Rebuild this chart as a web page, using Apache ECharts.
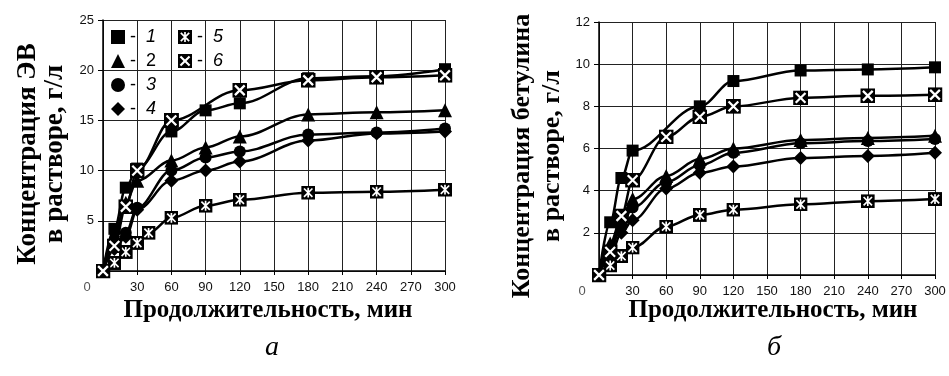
<!DOCTYPE html>
<html><head><meta charset="utf-8">
<script src="https://cdn.jsdelivr.net/npm/echarts@6/dist/echarts.min.js"></script>
<style>html,body{margin:0;padding:0;background:#fff}#c{width:949px;height:376px}</style>
</head><body><div id="c"></div>
<script>
// ---- data: chart (а) ----
const namesA = ['1','2','3','4','5','6'];
const tA1 = [0,10,20,30,60,90,120,180,240,300];
const a1  = [0,4.2,8.3,10.2,13.9,16.0,16.7,19.2,19.4,20.1];
const tA2 = [0,10,20,30,60,90,120,180,240,300];
const a2  = [0,3.6,6.8,9.0,11.0,12.3,13.4,15.6,15.8,16.0];
const tA3 = [0,10,20,30,60,90,120,180,240,300];
const a3  = [0,2.6,3.8,6.3,10.0,11.3,11.9,13.6,13.8,14.2];
const tA4 = [0,10,20,30,60,90,120,180,240,300];
const a4  = [0,2.2,3.4,6.1,9.0,10.0,10.9,13.0,13.7,13.9];
const tA5 = [0,10,20,30,40,60,90,120,180,240,300];
const a5  = [0,0.8,1.9,2.8,3.8,5.3,6.5,7.1,7.8,7.9,8.1];
const tA6 = [0,10,20,30,60,120,180,240,300];
const a6  = [0,2.5,6.4,10.0,15.0,18.0,19.0,19.3,19.5];
// ---- data: chart (б) ----
const tB1 = [0,10,20,30,90,120,180,240,300];
const b1  = [0,2.5,4.6,5.9,8.0,9.2,9.7,9.75,9.85];
const tB  = [0,10,20,30,60,90,120,180,240,300];
const b2  = [0,1.5,2.7,3.6,4.7,5.5,6.0,6.4,6.5,6.6];
const b3  = [0,1.2,2.3,3.2,4.4,5.2,5.8,6.25,6.35,6.45];
const b4  = [0,0.9,2.0,2.6,4.1,4.85,5.15,5.55,5.65,5.8];
const b5  = [0,0.45,0.9,1.3,2.3,2.85,3.1,3.35,3.5,3.6];
const b6  = [0,1.1,2.8,4.5,6.55,7.5,8.0,8.4,8.5,8.55];
// ticks
const xTicks = {min:0, max:300, interval:30};
const yTicksA = {min:0, max:25, interval:5};
const yTicksB = {min:0, max:12, interval:2};

const svg = s => 'image://data:image/svg+xml;charset=utf-8,' + encodeURIComponent(s);
const sym6 = svg('<svg xmlns="http://www.w3.org/2000/svg" width="20" height="20" viewBox="0 0 20 20"><rect x="0" y="0" width="20" height="20" fill="#000"/><path d="M3.5 3.5L16.5 16.5M16.5 3.5L3.5 16.5" stroke="#fff" stroke-width="3"/></svg>');
const sym5 = svg('<svg xmlns="http://www.w3.org/2000/svg" width="20" height="20" viewBox="0 0 20 20"><rect x="0" y="0" width="20" height="20" fill="#000"/><path d="M4 4L16 16M16 4L4 16M10 3L10 17" stroke="#fff" stroke-width="2.4"/></svg>');

const symbols = ['rect','triangle','circle','diamond',sym5,sym6];
const sizes = [12,14,12,14,14,15];

function pairs(t, v){ return t.map((x,i)=>[x, v[i]]); }
const setsA = [pairs(tA1,a1),pairs(tA2,a2),pairs(tA3,a3),pairs(tA4,a4),pairs(tA5,a5),pairs(tA6,a6)];
const setsB = [pairs(tB1,b1),pairs(tB,b2),pairs(tB,b3),pairs(tB,b4),pairs(tB,b5),pairs(tB,b6)];

const series = [];
[setsA, setsB].forEach((sets, g) => {
  sets.forEach((d, i) => {
    series.push({
      name: namesA[i], type:'line', xAxisIndex:g, yAxisIndex:g, data:d,
      smooth:0.35, smoothMonotone:'x',
      symbol: symbols[i], symbolSize: sizes[i], showSymbol:true,
      lineStyle:{color:'#000', width:2.5}, itemStyle:{color:'#000'},
      z: 2 + i
    });
  });
});

const labelFont = {fontFamily:'Liberation Sans, Arial', fontSize:13, color:'#111'};
function xAxis(g, pad){
  return {gridIndex:g, type:'value', ...xTicks,
    axisLine:{show:true, lineStyle:{color:'#000', width:1.5}},
    axisTick:{show:true, length:4, lineStyle:{color:'#000'}},
    splitLine:{show:true, lineStyle:{color:'#222', width:1}},
    axisLabel:{...labelFont, margin:10, formatter:v => v===0 ? '{z|0}' : String(v),
      rich:{z:{fontFamily:'Liberation Sans, Arial', fontSize:13, color:'#555', padding:[0,pad,0,0]}}}
  };
}
function yAxis(g, t){
  return {gridIndex:g, type:'value', ...t,
    axisLine:{show:true, lineStyle:{color:'#000', width:1.5}},
    axisTick:{show:true, length:5, lineStyle:{color:'#000'}},
    splitLine:{show:true, lineStyle:{color:'#222', width:1}},
    axisLabel:{...labelFont, margin:9, formatter:v => v===0 ? '' : String(v)}
  };
}

const legendText = {fontFamily:'Liberation Sans, Arial', fontSize:18, color:'#000', lineHeight:17,
  rich:{i:{fontStyle:'italic', fontFamily:'Liberation Sans, Arial', fontSize:18, color:'#000'},
        n:{fontFamily:'Liberation Sans, Arial', fontSize:18, color:'#000'}}};
const legendFmt = n => '-  ' + (n==='2' ? '{n|2}' : '{i|'+n+'}');

const serif = '"Liberation Serif", "Times New Roman", serif';
const option = {
  animation:false,
  backgroundColor:'#fff',
  grid:[
    {left:103, top:20, width:342, height:251},
    {left:599, top:22, width:336, height:253}
  ],
  xAxis:[xAxis(0,32), xAxis(1,34)],
  yAxis:[yAxis(0,yTicksA), yAxis(1,yTicksB)],
  legend:[
    {data:[{name:'1',icon:'rect'},{name:'2',icon:'triangle'},{name:'3',icon:'circle'},{name:'4',icon:'diamond'}],
     orient:'vertical', left:106, top:23, itemWidth:14, itemHeight:14, itemGap:6, selectedMode:false,
     formatter:legendFmt, textStyle:legendText, itemStyle:{color:'#000'}},
    {data:[{name:'5',icon:sym5},{name:'6',icon:sym6}],
     orient:'vertical', left:173, top:23, itemWidth:14, itemHeight:14, itemGap:6, selectedMode:false,
     formatter:legendFmt, textStyle:legendText}
  ],
  series: series,
  graphic:[
    {type:'text', x:42, y:154, rotation:Math.PI/2,
     style:{text:'Концентрация ЭВ\nв растворе, г/л', font:'bold 27px '+serif, fill:'#000',
            align:'center', verticalAlign:'middle', textAlign:'center', textVerticalAlign:'middle', lineHeight:27}},
    {type:'text', x:537, y:156, rotation:Math.PI/2,
     style:{text:'Концентрация бетулина\nв растворе, г/л', font:'bold 26px '+serif, fill:'#000',
            align:'center', verticalAlign:'middle', textAlign:'center', textVerticalAlign:'middle', lineHeight:30}},
    {type:'text', x:268, y:311,
     style:{text:'Продолжительность, мин', font:'bold 25px '+serif, fill:'#000',
            align:'center', verticalAlign:'middle', textAlign:'center', textVerticalAlign:'middle'}},
    {type:'text', x:773, y:311,
     style:{text:'Продолжительность, мин', font:'bold 25px '+serif, fill:'#000',
            align:'center', verticalAlign:'middle', textAlign:'center', textVerticalAlign:'middle'}},
    {type:'text', x:272, y:348,
     style:{text:'а', font:'italic 28px '+serif, fill:'#000',
            align:'center', verticalAlign:'middle', textAlign:'center', textVerticalAlign:'middle'}},
    {type:'text', x:774, y:348,
     style:{text:'б', font:'italic 28px '+serif, fill:'#000',
            align:'center', verticalAlign:'middle', textAlign:'center', textVerticalAlign:'middle'}}
  ]
};
const chart = echarts.init(document.getElementById('c'), null, {renderer:'canvas'});
chart.setOption(option);
</script></body></html>
